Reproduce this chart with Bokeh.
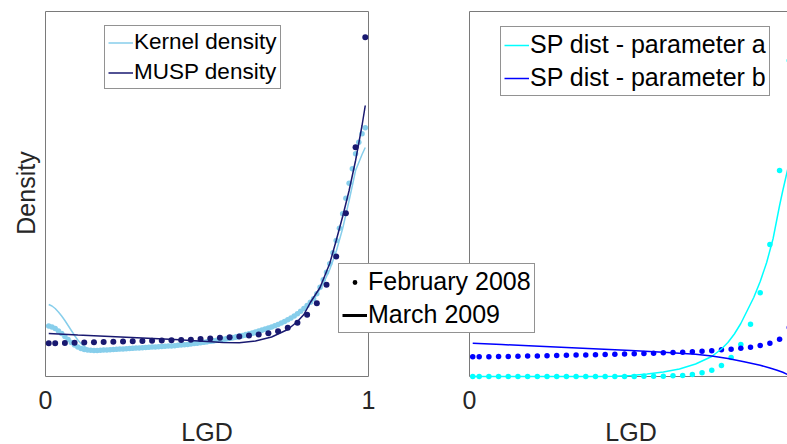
import math
from bokeh.plotting import figure
from bokeh.models import Range1d, Label, Legend, LegendItem
from bokeh.embed import file_html
from bokeh.resources import INLINE

# ---------------- data ----------------
# Left panel: LGD densities (Kernel vs MUSP), February 2008 (dots) and March 2009 (lines)
lgd_grid_coarse = [0.01, 0.03, 0.06, 0.09, 0.12, 0.15, 0.18, 0.21, 0.24, 0.27, 0.30, 0.33,
                   0.36, 0.39, 0.42, 0.45, 0.48, 0.51, 0.54, 0.57, 0.60, 0.63, 0.66, 0.69,
                   0.72, 0.75, 0.78, 0.81, 0.84, 0.87, 0.90, 0.93, 0.96, 0.99]

lgd_grid_fine = [0.01, 0.02, 0.03, 0.04, 0.05, 0.06, 0.07, 0.08, 0.09, 0.10,
                 0.11, 0.12, 0.13, 0.14, 0.15, 0.16, 0.17, 0.18, 0.19, 0.20,
                 0.21, 0.22, 0.23, 0.24, 0.25, 0.26, 0.27, 0.28, 0.29, 0.30,
                 0.31, 0.32, 0.33, 0.34, 0.35, 0.36, 0.37, 0.38, 0.39, 0.40,
                 0.41, 0.42, 0.43, 0.44, 0.45, 0.46, 0.47, 0.48, 0.49, 0.50,
                 0.51, 0.52, 0.53, 0.54, 0.55, 0.56, 0.57, 0.58, 0.59, 0.60,
                 0.61, 0.62, 0.63, 0.64, 0.65, 0.66, 0.67, 0.68, 0.69, 0.70,
                 0.71, 0.72, 0.73, 0.74, 0.75, 0.76, 0.77, 0.78, 0.79, 0.80,
                 0.81, 0.82, 0.83, 0.84, 0.85, 0.86, 0.87, 0.88, 0.89, 0.90,
                 0.91, 0.92, 0.93, 0.94, 0.95, 0.96, 0.97, 0.98, 0.99]

kernel_feb2008 = [5.05, 4.95, 4.80, 4.55, 4.30, 4.00, 3.70, 3.40, 3.15, 2.95,
                  2.80, 2.70, 2.65, 2.62, 2.60, 2.60, 2.62, 2.64, 2.66, 2.68,
                  2.70, 2.72, 2.74, 2.76, 2.78, 2.80, 2.82, 2.84, 2.86, 2.88,
                  2.90, 2.92, 2.94, 2.96, 2.98, 3.00, 3.02, 3.04, 3.06, 3.08,
                  3.12, 3.15, 3.18, 3.21, 3.25, 3.29, 3.33, 3.38, 3.43, 3.48,
                  3.53, 3.58, 3.63, 3.68, 3.73, 3.79, 3.85, 3.91, 3.97, 4.04,
                  4.11, 4.19, 4.27, 4.36, 4.45, 4.55, 4.65, 4.75, 4.85, 4.96,
                  5.08, 5.21, 5.35, 5.50, 5.67, 5.85, 6.05, 6.27, 6.52, 6.80,
                  7.10, 7.42, 7.77, 8.27, 8.93, 9.67, 10.43, 11.27, 12.37, 13.60,
                  14.83, 16.27, 17.83, 19.33, 20.77, 22.27, 23.43, 24.27, 24.87]

musp_feb2008 = [3.33, 3.33, 3.35, 3.37, 3.40, 3.42, 3.45, 3.47, 3.50, 3.53,
                3.55, 3.58, 3.60, 3.63, 3.65, 3.68, 3.74, 3.80, 3.87, 3.93,
                4.00, 4.10, 4.20, 4.33, 4.53, 4.87, 5.37, 6.17, 7.33, 9.17,
                12.0, 16.33, 22.93, 33.93]

kernel_mar2009_x = [0.01, 0.02, 0.03, 0.04, 0.05, 0.06, 0.07, 0.08, 0.09, 0.10,
                    0.11, 0.12, 0.13, 0.14, 0.15, 0.17, 0.20, 0.25, 0.30, 0.35,
                    0.40, 0.45, 0.50, 0.55, 0.60, 0.65, 0.70, 0.75, 0.80, 0.83,
                    0.86, 0.88, 0.90, 0.92, 0.94, 0.96, 0.98, 0.99]
kernel_mar2009 = [7.2, 7.05, 6.8, 6.45, 6.05, 5.6, 5.1, 4.6, 4.1, 3.65,
                  3.3, 3.0, 2.8, 2.65, 2.57, 2.52, 2.55, 2.65, 2.75, 2.87,
                  3.0, 3.15, 3.3, 3.5, 3.8, 4.2, 4.8, 5.6, 6.7, 7.7,
                  9.3, 10.7, 12.5, 14.8, 17.6, 20.6, 22.2, 22.9]

musp_mar2009_x = [0.01, 0.1, 0.2, 0.3, 0.4, 0.5, 0.55, 0.6, 0.65, 0.7, 0.75,
                  0.78, 0.8, 0.82, 0.85, 0.88, 0.9, 0.92, 0.94, 0.96, 0.98, 0.99]
musp_mar2009 = [4.3, 4.15, 4.0, 3.85, 3.7, 3.5, 3.4, 3.37, 3.55, 3.95, 4.7,
                5.5, 6.2, 7.4, 8.9, 11.3, 13.6, 16.0, 18.6, 21.6, 25.1, 27.1]

# Right panel: SP distribution, parameter a / parameter b
sp_a_feb2008 = [0.0, 0.0, 0.0, 0.0, 0.0, 0.0, 0.0, 0.0, 0.0, 0.0,
                0.0, 0.0, 0.0, 0.0, 0.0, 0.0, 0.0, 0.0, 0.02, 0.03,
                0.03, 0.07, 0.10, 0.20, 0.37, 0.63, 1.10, 1.90, 3.20, 5.23,
                8.37, 13.2, 20.6, 31.6]
sp_b_feb2008 = [1.97, 1.97, 1.98, 1.99, 2.00, 2.02, 2.04, 2.06, 2.08, 2.10,
                2.12, 2.14, 2.16, 2.18, 2.20, 2.22, 2.25, 2.27, 2.30, 2.33,
                2.37, 2.40, 2.43, 2.47, 2.53, 2.57, 2.67, 2.73, 2.83, 2.93,
                3.10, 3.33, 3.73, 4.90]

sp_a_mar2009_x = [0.01, 0.1, 0.2, 0.3, 0.4, 0.45, 0.5, 0.55, 0.6, 0.65, 0.7, 0.75,
                  0.78, 0.8, 0.82, 0.84, 0.86, 0.88, 0.9, 0.92, 0.94, 0.96, 0.97,
                  0.98, 0.99, 1.0]
sp_a_mar2009 = [0.0, 0.0, 0.0, 0.0, 0.0, 0.02, 0.1, 0.25, 0.45, 0.75, 1.25, 2.0,
                2.75, 3.4, 4.25, 5.3, 6.6, 7.9, 9.5, 11.4, 13.8, 17.1, 18.6,
                20.0, 21.4, 22.8]

sp_b_mar2009_x = [0.01, 0.1, 0.2, 0.3, 0.4, 0.5, 0.6, 0.7, 0.75, 0.8, 0.85, 0.9,
                  0.93, 0.95, 0.97, 0.99]
sp_b_mar2009 = [3.33, 3.2, 3.05, 2.9, 2.75, 2.6, 2.42, 2.22, 2.05, 1.8, 1.47, 1.12,
                0.85, 0.65, 0.42, 0.12]

tick_labels = ["0", "1"]
tick_values = [0, 1]

# ---------------- layout / style ----------------
W, H = 787, 444
PANEL_PX = 323.0          # width of one panel in px
LEFT_X0, RIGHT_X0 = 45.0, 469.0
BASE_PY = 376.0           # pixel row of density 0
PX_PER_Y = 10.0
Y_TOP = 36.5              # density at top of the axes box

FONT = "Liberation Sans"
SKY = "#87CEEB"
NAVY = "#191970"
CYAN = "#00FFFF"
BLUE = "#0000FF"
AXC = "#262626"
NAN = float("nan")

p = figure(width=W, height=H, output_backend="svg", toolbar_location=None,
           title=None, x_axis_location=None, y_axis_location=None,
           x_range=Range1d(-LEFT_X0 / PANEL_PX, (W - LEFT_X0) / PANEL_PX),
           y_range=Range1d(-(H - BASE_PY) / PX_PER_Y, BASE_PY / PX_PER_Y),
           min_border=0)
p.extra_x_ranges = {"right": Range1d(-RIGHT_X0 / PANEL_PX, (W - RIGHT_X0) / PANEL_PX)}
p.outline_line_color = None
p.background_fill_color = "white"
p.border_fill_color = "white"
p.xgrid.grid_line_color = None
p.ygrid.grid_line_color = None
p.xgrid.visible = False
p.ygrid.visible = False

# axes boxes (axis limits 0..1 in x, 0..Y_TOP in y)
for rn in ["default", "right"]:
    p.quad(left=[0], right=[1], bottom=[0], top=[Y_TOP], x_range_name=rn,
           fill_color=None, line_color="#7a7a7a", line_width=1, level="underlay")

# left panel
p.scatter(x=lgd_grid_fine, y=kernel_feb2008, size=5.5, fill_color=SKY, line_color=None)
r_kl = p.line(x=kernel_mar2009_x, y=kernel_mar2009, line_color=SKY, line_width=1.5)
p.scatter(x=lgd_grid_coarse, y=musp_feb2008, size=6, fill_color=NAVY, line_color=None)
r_ml = p.line(x=musp_mar2009_x, y=musp_mar2009, line_color=NAVY, line_width=1.5)

# right panel
p.scatter(x=lgd_grid_coarse, y=sp_a_feb2008, size=5.5, fill_color=CYAN, line_color=None,
          x_range_name="right")
p.scatter(x=lgd_grid_coarse, y=sp_b_feb2008, size=5.5, fill_color=BLUE, line_color=None,
          x_range_name="right")
r_al = p.line(x=sp_a_mar2009_x, y=sp_a_mar2009, line_color=CYAN, line_width=1.5,
              x_range_name="right")
r_bl = p.line(x=sp_b_mar2009_x, y=sp_b_mar2009, line_color=BLUE, line_width=1.5,
              x_range_name="right")

# legend-only samples (black), no drawn data
r_dot = p.scatter(x=[NAN], y=[NAN], size=5, fill_color="black", line_color=None)
r_blk = p.line(x=[NAN, NAN], y=[NAN, NAN], line_color="black", line_width=3)

def mk_legend(items, loc, fs, lh, gh):
    return Legend(items=items, location=loc, margin=0, padding=3, spacing=4,
                  glyph_width=25, glyph_height=gh, label_height=lh, label_standoff=1,
                  label_text_font=FONT, label_text_font_size=fs, label_text_color="black",
                  border_line_color=AXC, border_line_width=1,
                  background_fill_color="white", background_fill_alpha=1.0)

p.add_layout(mk_legend([LegendItem(label="Kernel density", renderers=[r_kl]),
                        LegendItem(label="MUSP density", renderers=[r_ml])],
                       (104, 355), "22.5px", 25, 25))
p.add_layout(mk_legend([LegendItem(label="SP dist - parameter a", renderers=[r_al]),
                        LegendItem(label="SP dist - parameter b", renderers=[r_bl])],
                       (500, 348), "25px", 28, 28))
p.add_layout(mk_legend([LegendItem(label="February 2008", renderers=[r_dot]),
                        LegendItem(label="March 2009", renderers=[r_blk])],
                       (338, 111), "25px", 28, 12))

# tick labels and axis labels
tick_y = (BASE_PY - 399) / PX_PER_Y
lab_y = (BASE_PY - 431) / PX_PER_Y
for v, t in zip(tick_values, tick_labels):
    p.add_layout(Label(x=v, y=tick_y, text=t, text_align="center", text_baseline="middle",
                       text_font=FONT, text_font_size="25px", text_color=AXC))
p.add_layout(Label(x=tick_values[0], y=tick_y, text=tick_labels[0], x_range_name="right",
                   text_align="center", text_baseline="middle",
                   text_font=FONT, text_font_size="25px", text_color=AXC))
for rn in ["default", "right"]:
    p.add_layout(Label(x=0.5, y=lab_y, text="LGD", x_range_name=rn,
                       text_align="center", text_baseline="middle",
                       text_font=FONT, text_font_size="25px", text_color=AXC))
p.add_layout(Label(x=25, y=H - 192.5, x_units="screen", y_units="screen", text="Density",
                   angle=math.pi / 2, text_align="center", text_baseline="middle",
                   text_font=FONT, text_font_size="25px", text_color=AXC))

open("out.html", "w").write(file_html(p, INLINE))
